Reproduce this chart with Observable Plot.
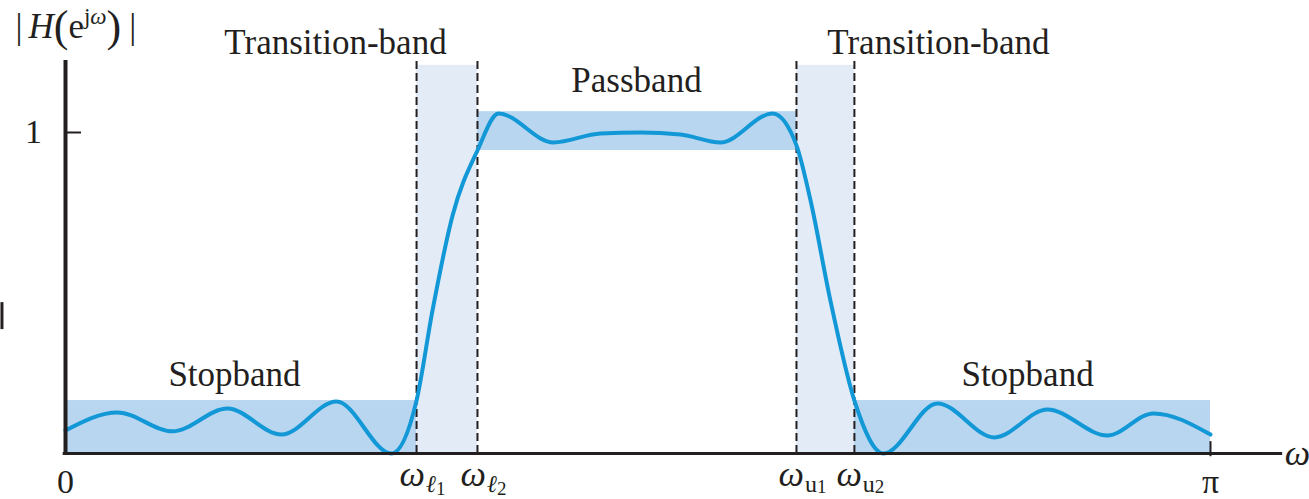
<!DOCTYPE html>
<html>
<head>
<meta charset="utf-8">
<script src="https://cdn.jsdelivr.net/npm/d3@7"></script>
<script src="https://cdn.jsdelivr.net/npm/@observablehq/plot@0.6"></script>
<style>
  html, body { margin: 0; padding: 0; background: #fff; }
  #chart svg { display: block; overflow: visible; }
</style>
</head>
<body>
<div id="chart"></div>
<script>
// ---- data (ω in units of π, magnitude |H|) ----
const omega = [0, 0.0454, 0.0934, 0.1415, 0.1886, 0.2367, 0.2847, 0.3066, 0.3205, 0.338, 0.3598,
  0.3782, 0.4262, 0.4672, 0.5022, 0.537, 0.572, 0.6175, 0.6384, 0.6507, 0.668, 0.689, 0.7144,
  0.7616, 0.8114, 0.8576, 0.91, 0.9502, 1.0];
const magnitude = [0.072, 0.128, 0.069, 0.140, 0.059, 0.162, 0.0, 0.165, 0.445, 0.741, 0.944,
  1.059, 0.969, 0.997, 1.0, 0.994, 0.969, 1.059, 0.96, 0.788, 0.477, 0.165, 0.0,
  0.156, 0.050, 0.137, 0.056, 0.125, 0.059];

// tolerance bands
const bandNames = ["Stopband", "Passband", "Stopband"];
const bandStart = [0, 0.3598, 0.689];
const bandEnd = [0.3066, 0.6384, 1.0];
const bandLow = [0, 0.944, 0];
const bandHigh = [0.165, 1.065, 0.165];

// transition bands
const transitionStart = [0.3066, 0.6384];
const transitionEnd = [0.3598, 0.689];
const transitionTop = 1.209;

// band edge frequencies
const edgeNames = ["ωℓ1", "ωℓ2", "ωu1", "ωu2"];
const edgeValues = [0.3066, 0.3598, 0.6384, 0.689];
const edgeTop = 1.227;

// region labels
const regionLabels = ["Transition-band", "Passband", "Transition-band", "Stopband", "Stopband"];
const regionX = [0.2358, 0.4987, 0.7624, 0.1476, 0.8402];
const regionY = [1.243, 1.1246, 1.243, 0.2118, 0.2118];

// tick labels
const xTickValues = [0, 1];
const xTickLabels = ["0", "π"];
const yTickValues = [1];
const yTickLabels = ["1"];
const xAxisLabel = "ω";
const yAxisLabel = "|H(ejω)|";

// axis extents
const yAxisTop = 1.224;
const xAxisEnd = 1.063;

// ---- build tables ----
const curve = omega.map((w, i) => ({w, m: magnitude[i]}));
const bands = bandNames.map((name, i) => ({name, x1: bandStart[i], x2: bandEnd[i], y1: bandLow[i], y2: bandHigh[i]}));
const transitions = transitionStart.map((s, i) => ({x1: s, x2: transitionEnd[i], y1: 0, y2: transitionTop}));
const edges = edgeNames.map((name, i) => ({name, w: edgeValues[i]}));
const regions = regionLabels.map((t, i) => ({t, x: regionX[i], y: regionY[i]}));
const xTicks = xTickValues.map((v, i) => ({v, t: xTickLabels[i]}));
const yTicks = yTickValues.map((v, i) => ({v, t: yTickLabels[i]}));

const serif = "'Liberation Serif', 'Times New Roman', 'DejaVu Serif', serif";
const ink = "#231f20";
const blue = "#1298d6";

const plot = Plot.plot({
  width: 1309,
  height: 499,
  marginLeft: 65,
  marginRight: 99,
  marginTop: 0,
  marginBottom: 46,
  x: {domain: [0, 1], axis: null},
  y: {domain: [0, 1.4112], axis: null},
  style: {background: "#fff", fontFamily: serif},
  marks: [
    Plot.rect(transitions, {x1: "x1", x2: "x2", y1: "y1", y2: "y2", fill: "#e3ebf7"}),
    Plot.rect(bands, {x1: "x1", x2: "x2", y1: "y1", y2: "y2", fill: "#b8d6ef"}),
    Plot.ruleX(edges, {x: "w", y1: 0, y2: edgeTop, stroke: ink, strokeWidth: 2, strokeDasharray: "8,4"}),
    Plot.line(curve, {x: "w", y: "m", stroke: blue, strokeWidth: 4, curve: "monotone-x"}),
    // axes
    Plot.ruleY([0], {x1: -0.002, x2: xAxisEnd, stroke: ink, strokeWidth: 3}),
    Plot.ruleX([0], {y1: 0, y2: yAxisTop, stroke: ink, strokeWidth: 4}),
    Plot.ruleY(yTicks, {y: "v", x1: 0, x2: 0.014, stroke: ink, strokeWidth: 2}),
    Plot.ruleX(xTicks.filter(d => d.v > 0), {x: "v", y1: -0.01, y2: 0.037, stroke: ink, strokeWidth: 2}),
    // edge artifact at the left border
    Plot.ruleX([-0.0555], {y1: 0.386, y2: 0.470, stroke: ink, strokeWidth: 3}),
    // text
    Plot.text(regions, {x: "x", y: "y", text: "t", fontSize: 35, fill: ink, lineAnchor: "bottom"}),
    Plot.text(xTicks, {x: "v", y: -0.1215, text: "t", fontSize: 34, fill: ink, lineAnchor: "bottom"}),
    Plot.text(yTicks, {x: -0.028, y: "v", text: "t", fontSize: 34, fill: ink, lineAnchor: "middle"}),
    Plot.text(edges, {x: "w", y: -0.1, text: "name", fontSize: 36, fill: ink, lineAnchor: "bottom", dx: 6}),
    Plot.text([xAxisLabel], {x: 1.076, y: 0, text: d => d, fontSize: 36, fill: ink, lineAnchor: "middle"}),
    Plot.text([yAxisLabel], {x: -0.0437, y: 1.293, text: d => d, fontSize: 35, fill: ink, textAnchor: "start", lineAnchor: "bottom"})
  ]
});

// rich text: italics, subscripts and superscripts as tspans
d3.select(plot).selectAll("text").each(function() {
  const s = this.textContent;
  const el = d3.select(this);
  if (edgeNames.includes(s)) {
    const script = s[1] === "ℓ";
    el.text(null);
    el.append("tspan").attr("font-style", "italic").text(s[0]);
    el.append("tspan").attr("font-size", 24).attr("dy", 6).attr("dx", 1)
      .attr("font-style", script ? "italic" : "normal").text(s[1]);
    el.append("tspan").attr("font-size", 19).attr("font-style", "normal")
      .attr("dy", script ? 3 : 1).text(s.slice(2));
  } else if (s === xAxisLabel) {
    el.attr("font-style", "italic");
  } else if (s === yAxisLabel) {
    el.text(null);
    el.append("tspan").text("|");
    el.append("tspan").attr("font-style", "italic").attr("dx", 6).text("H");
    el.append("tspan").attr("font-size", 44).attr("dy", 3).text("(");
    el.append("tspan").attr("dy", -3).text("e");
    el.append("tspan").attr("font-size", 23).attr("dy", -14).text("j");
    el.append("tspan").attr("font-size", 23).attr("font-style", "italic").text("ω");
    el.append("tspan").attr("font-size", 44).attr("dy", 17).text(")");
    el.append("tspan").attr("dy", -3).attr("dx", 8).text("|");
  }
});

document.getElementById("chart").appendChild(plot);
</script>
</body>
</html>
